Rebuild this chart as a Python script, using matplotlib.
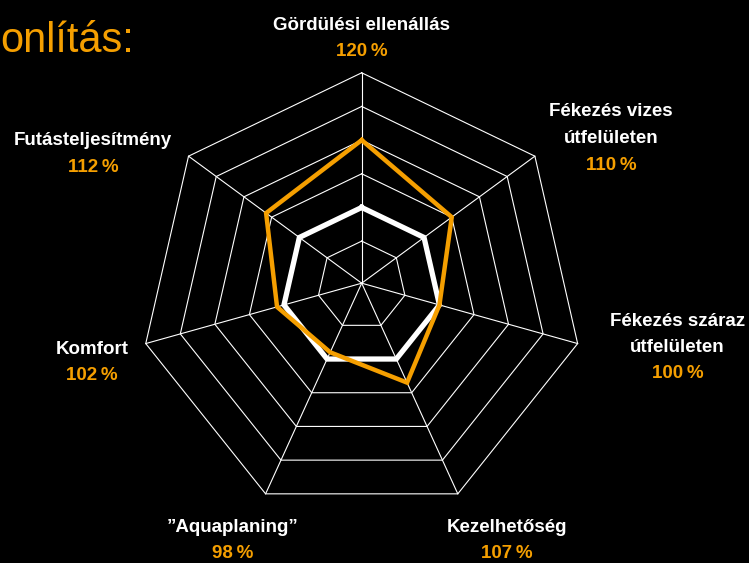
# Radar chart: tyre performance compared to reference (100 %)
import numpy as np
import matplotlib as mpl
mpl.use('Agg')
import matplotlib.pyplot as plt

# Data
categories = ['Gördülési ellenállás', 'Fékezés vizes\nútfelületen', 'Fékezés száraz\nútfelületen',
              'Kezelhetőség', '\u201dAquaplaning\u201d', 'Komfort', 'Futásteljesítmény']
values = [120, 110, 100, 107, 98, 102, 112]
reference = [100, 100, 100, 100, 100, 100, 100]
rings = [90, 100, 110, 120, 130, 140]
title = 'onlítás:'

# Layout (pixel units, y downwards)
W, H = 749, 563
cx, cy = 361.7, 283.2
tilt = 0.05            # slight perspective: rings drift down with radius
px_per_pct = 3.544
v_center = 77.5
line_gap = 26.5
label_pos = [(361.7, 25), (611, 112), (677.5, 321), (507, 527),
             (232.5, 527), (92, 349), (93, 140.7)]

orange = '#f59f00'
font = ['Liberation Sans', 'DejaVu Sans']

n = len(categories)
angles = np.deg2rad(90 - np.arange(n) * 360 / n)


def to_xy(vals):
    r = px_per_pct * (np.asarray(vals, float) - v_center)
    x = cx + r * np.cos(angles)
    y = cy - r * np.sin(angles) + tilt * r
    return np.append(x, x[0]), np.append(y, y[0])


fig = plt.figure(figsize=(W / 100, H / 100), dpi=100, facecolor='black')
ax = fig.add_axes([0, 0, 1, 1])
ax.set_facecolor('black')
ax.set_xlim(0, W)
ax.set_ylim(H, 0)
ax.axis('off')

# grid rings
for v in rings:
    x, y = to_xy([v] * n)
    ax.plot(x, y, color='white', lw=0.8, zorder=1)

# spokes
xo, yo = to_xy([rings[-1]] * n)
for i in range(n):
    ax.plot([cx, xo[i]], [cy, yo[i]], color='white', lw=0.8, zorder=1)

# series
x, y = to_xy(reference)
ax.plot(x, y, color='white', lw=3.8, solid_joinstyle='miter', zorder=3)
x, y = to_xy(values)
ax.plot(x, y, color=orange, lw=3.2, solid_joinstyle='miter', zorder=4)

# labels
for cat, val, (lx, ly) in zip(categories, values, label_pos):
    lines = cat.split('\n')
    for j, line in enumerate(lines):
        ax.text(lx, ly + j * line_gap, line, color='white', fontsize=13.5,
                fontweight='bold', family=font, ha='center', va='center')
    ax.text(lx, ly + len(lines) * line_gap, '{}\u2009%'.format(val), color=orange,
            fontsize=13.5, fontweight='bold', family=font, ha='center', va='center')

# title (cut off at the left edge)
ax.text(0, 52, title, color=orange, fontsize=30,
        family=font, ha='left', va='baseline')

fig.savefig('out.png', dpi=100, facecolor='black')
plt.close()
